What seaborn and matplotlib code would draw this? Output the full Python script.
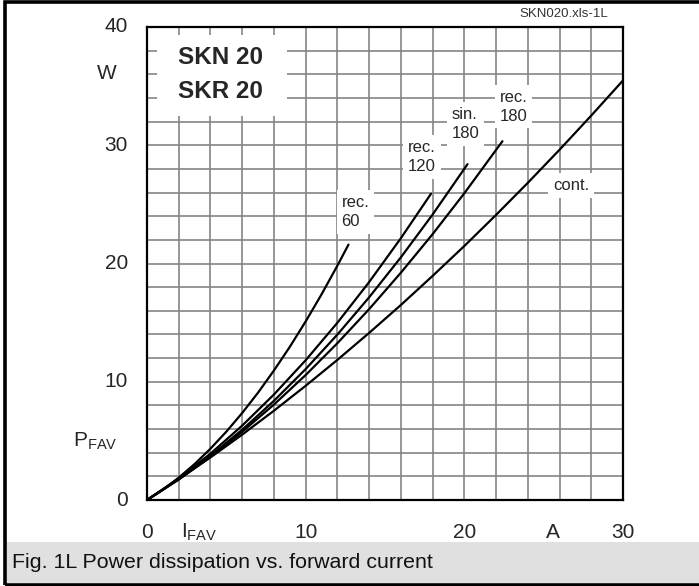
import matplotlib
matplotlib.use("Agg")
import matplotlib.pyplot as plt
import seaborn as sns
import pandas as pd
from matplotlib.patches import Rectangle
import matplotlib.transforms as mtransforms

# ---- data ----
i_rec60 = [0, 1, 2, 3, 4, 5, 6, 7, 8, 9, 10, 11, 12, 12.7]
p_rec60 = [0, 0.87, 1.89, 3.04, 4.34, 5.78, 7.36, 9.08, 10.95, 12.95, 15.10,
           17.39, 19.82, 21.6]

i_rec120 = [0, 2, 4, 6, 8, 10, 12, 14, 16, 17.9]
p_rec120 = [0, 1.83, 3.92, 6.29, 8.92, 11.82, 14.99, 18.43, 22.14, 25.9]

i_sin180 = [0, 2, 4, 6, 8, 10, 12, 14, 16, 18, 20.2]
p_sin180 = [0, 1.75, 3.73, 5.94, 8.39, 11.07, 13.99, 17.14, 20.52, 24.14, 28.4]

i_rec180 = [0, 2, 4, 6, 8, 10, 12, 14, 16, 18, 20, 22.4]
p_rec180 = [0, 1.73, 3.65, 5.77, 8.07, 10.57, 13.26, 16.14, 19.22, 22.48, 25.94, 30.34]

i_cont = [0, 2, 4, 6, 8, 10, 12, 14, 16, 18, 20, 22, 24, 26, 28, 30]
p_cont = [0, 1.76, 3.60, 5.53, 7.55, 9.66, 11.85, 14.13, 16.49, 18.95, 21.48,
          24.11, 26.82, 29.62, 32.51, 35.48]

x_ticks = [0, 10, 20, 30]
x_ticklabels = ["0", "10", "20", "30"]
y_ticks = [0, 10, 20, 30, 40]
y_ticklabels = ["0", "10", "20", "30", "40"]

curve_names = ["rec. 60", "rec. 120", "sin. 180", "rec. 180", "cont."]
curve_labels = ["rec.\n60", "rec.\n120", "sin.\n180", "rec.\n180", "cont."]
label_pos = [(12.26, 24.35), (16.45, 29.0), (19.2, 31.8), (22.24, 33.26), (25.58, 26.6)]

title_lines = ["SKN 20", "SKR 20"]
caption = "Fig. 1L Power dissipation vs. forward current"
file_tag = "SKN020.xls-1L"

# ---- build table ----
rows = []
for name, xs, ys in zip(curve_names,
                        [i_rec60, i_rec120, i_sin180, i_rec180, i_cont],
                        [p_rec60, p_rec120, p_sin180, p_rec180, p_cont]):
    for k, (x, y) in enumerate(zip(xs, ys)):
        rows.append({"curve": name, "I": x, "P": y, "order": k})
df = pd.DataFrame(rows)

sns.set_theme(style="white")
plt.rcParams["font.family"] = ["Liberation Sans", "DejaVu Sans"]
plt.rcParams["mathtext.fontset"] = "custom"
plt.rcParams["mathtext.rm"] = "Liberation Sans"
plt.rcParams["mathtext.it"] = "Liberation Sans"

fig = plt.figure(figsize=(6.99, 5.86), dpi=100)
fig.patch.set_facecolor("white")

W, H = 699, 586
ax = fig.add_axes([147 / W, (H - 500) / H, (623 - 147) / W, (500 - 27) / H])

# caption band and outer frame
fig.patches.append(Rectangle((6 / W, 3 / H), (W - 6) / W, 41 / H,
                             transform=fig.transFigure, facecolor="#e0e0e0",
                             edgecolor="none", zorder=0))
fig.patches.append(Rectangle((4.5 / W, 1.5 / H), (W + 10) / W, (H - 3.5) / H,
                             transform=fig.transFigure, facecolor="none",
                             edgecolor="black", linewidth=2.6, zorder=5))
fig.text(12 / W, (H - 563) / H, caption, fontsize=15.4, va="center", ha="left",
         color="#111111")
fig.text(608 / W, (H - 14) / H, file_tag, fontsize=9.5, va="center", ha="right",
         color="#333333")

sns.lineplot(data=df, x="I", y="P", hue="curve", units="curve", estimator=None,
             sort=False, palette=["black"] * 5, legend=False, linewidth=1.6,
             ax=ax, zorder=4)

ax.set_xlim(0, 30)
ax.set_ylim(0, 40)
ax.set_xticks([v for v in range(0, 31, 2)], minor=False)
ax.set_yticks([v for v in range(0, 41, 2)], minor=False)
ax.grid(True, color="#858585", linewidth=1.2, zorder=0)
ax.set_axisbelow(True)
ax.tick_params(axis="both", length=0, labelbottom=False, labelleft=False)
ax.set_xlabel("")
ax.set_ylabel("")
for s in ax.spines.values():
    s.set_color("black")
    s.set_linewidth(1.6)
    s.set_zorder(6)

# tick numbers
bx = mtransforms.blended_transform_factory(ax.transData, ax.transAxes)
by = mtransforms.blended_transform_factory(ax.transAxes, ax.transData)
for v, t in zip(x_ticks, x_ticklabels):
    ax.text(v, -32 / 473, t, transform=bx, ha="center", va="center", fontsize=15)
for v, t in zip(y_ticks, y_ticklabels):
    ax.text(-19 / 476, v, t, transform=by, ha="right", va="center", fontsize=15)

ax.text(3.3, -32 / 473, r"I$_{\mathrm{FAV}}$", transform=bx, ha="center",
        va="center", fontsize=15)
ax.text(25.6, -32 / 473, "A", transform=bx, ha="center", va="center", fontsize=15)
ax.text(-40 / 476, 36.1, "W", transform=by, ha="center", va="center", fontsize=15)
ax.text(-52 / 476, 5.0, r"P$_{\mathrm{FAV}}$", transform=by, ha="center",
        va="center", fontsize=15)

# title box
ax.add_patch(Rectangle((0.63, 32.5), 8.2, 6.8, facecolor="white",
                       edgecolor="none", zorder=2))
ax.text(1.95, 37.45, title_lines[0], fontsize=17.5, fontweight="bold",
        ha="left", va="center", zorder=3)
ax.text(1.95, 34.57, title_lines[1], fontsize=17.5, fontweight="bold",
        ha="left", va="center", zorder=3)

for lab, (x, y) in zip(curve_labels, label_pos):
    ax.text(x, y, lab, fontsize=12, ha="left", va="center", zorder=3,
            linespacing=1.32,
            bbox=dict(facecolor="white", edgecolor="none", pad=3.5))

fig.savefig("out.png", dpi=100, facecolor="white")
